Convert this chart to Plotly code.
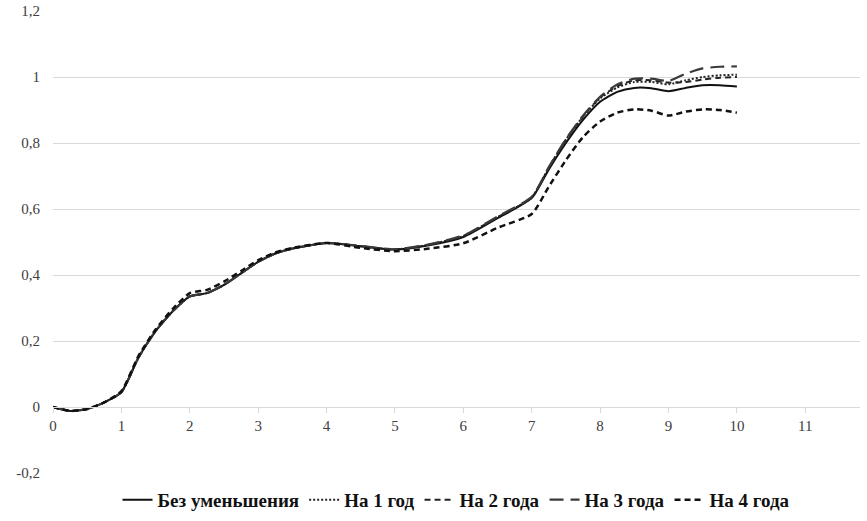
import plotly.graph_objects as go

x = [0, 0.25, 0.5, 0.75, 1, 1.25, 1.5, 1.75, 2, 2.25, 2.5, 2.75, 3, 3.25, 3.5, 4,
     4.5, 5, 5.5, 6, 6.5, 7, 7.25, 7.5, 7.75, 8, 8.25, 8.5, 8.75, 9, 9.25, 9.5, 9.75, 10]

base = [0, -0.012, -0.006, 0.014, 0.045, 0.15, 0.23, 0.29, 0.335, 0.345, 0.37, 0.405, 0.44,
        0.465, 0.48, 0.497, 0.487, 0.477, 0.49, 0.515, 0.572, 0.633, 0.72, 0.80, 0.87, 0.925,
        0.955, 0.967, 0.966, 0.957, 0.967, 0.975, 0.975, 0.971]
y1 = [0, -0.012, -0.006, 0.014, 0.045, 0.15, 0.23, 0.29, 0.335, 0.345, 0.37, 0.405, 0.44,
      0.465, 0.48, 0.497, 0.487, 0.477, 0.492, 0.518, 0.575, 0.635, 0.725, 0.81, 0.88, 0.935,
      0.968, 0.985, 0.985, 0.978, 0.99, 1.0, 1.005, 1.007]
y2 = [0, -0.012, -0.006, 0.014, 0.045, 0.15, 0.23, 0.29, 0.335, 0.345, 0.37, 0.405, 0.44,
      0.465, 0.48, 0.497, 0.487, 0.477, 0.492, 0.518, 0.575, 0.635, 0.725, 0.81, 0.88, 0.938,
      0.972, 0.99, 0.99, 0.983, 0.985, 0.992, 0.998, 1.0]
y3 = [0, -0.012, -0.006, 0.014, 0.045, 0.15, 0.23, 0.29, 0.335, 0.345, 0.37, 0.405, 0.44,
      0.465, 0.48, 0.497, 0.488, 0.478, 0.493, 0.52, 0.577, 0.637, 0.727, 0.812, 0.883, 0.94,
      0.977, 0.995, 0.995, 0.988, 1.01, 1.026, 1.031, 1.032]
y4 = [0, -0.012, -0.006, 0.014, 0.048, 0.155, 0.235, 0.297, 0.345, 0.355, 0.38, 0.412, 0.445,
      0.468, 0.482, 0.497, 0.482, 0.472, 0.48, 0.496, 0.543, 0.585, 0.668, 0.748, 0.818, 0.865,
      0.892, 0.902, 0.898, 0.883, 0.895, 0.902, 0.9, 0.892]

names = ["Без уменьшения", "На 1 год", "На 2 года", "На 3 года", "На 4 года"]
series = [base, y1, y2, y3, y4]
dashes = ["solid", "2px,2px", "6px,4px", "14px,7px", "6px,4px"]
colors = ["#111111", "#222222", "#222222", "#3a3a3a", "#111111"]
widths = [2, 2, 2, 2.2, 2.5]

y_ticks = [-0.2, 0, 0.2, 0.4, 0.6, 0.8, 1, 1.2]
y_labels = ["-0,2", "0", "0,2", "0,4", "0,6", "0,8", "1", "1,2"]
x_ticks = list(range(0, 12))
x_labels = [str(v) for v in x_ticks]

fig = go.Figure()
for n, s, d, c, w in zip(names, series, dashes, colors, widths):
    fig.add_trace(go.Scatter(x=x, y=s, name=n, mode="lines",
                             line=dict(color=c, width=w, dash=d, shape="spline", smoothing=0.6)))

fig.update_layout(
    width=867, height=521,
    margin=dict(l=53, r=7, t=11, b=48, autoexpand=False),
    paper_bgcolor="white", plot_bgcolor="white",
    font=dict(family="Liberation Serif", size=15, color="#404040"),
    showlegend=True,
    legend=dict(orientation="h", x=0.5, xanchor="center", y=-0.058, yanchor="middle",
                font=dict(family="Liberation Serif", size=19, color="#111111", weight="bold"),
                itemwidth=30, tracegroupgap=0),
    xaxis=dict(range=[0, 11.8], tickvals=x_ticks, ticktext=x_labels, showgrid=False,
               zeroline=False, showline=True, linecolor="#d9d9d9", linewidth=1,
               ticks="outside", ticklen=5, tickcolor="#d9d9d9",
               anchor="free", position=(0 - (-0.2)) / 1.4),
    yaxis=dict(range=[-0.2, 1.2], tickvals=y_ticks, ticktext=y_labels, showgrid=True,
               gridcolor="#d9d9d9", gridwidth=1, zeroline=False, ticks="", ticklabelstandoff=12),
)

fig.write_html("out.html", config={"displayModeBar": False},
               post_script="document.body.style.margin='0';")
